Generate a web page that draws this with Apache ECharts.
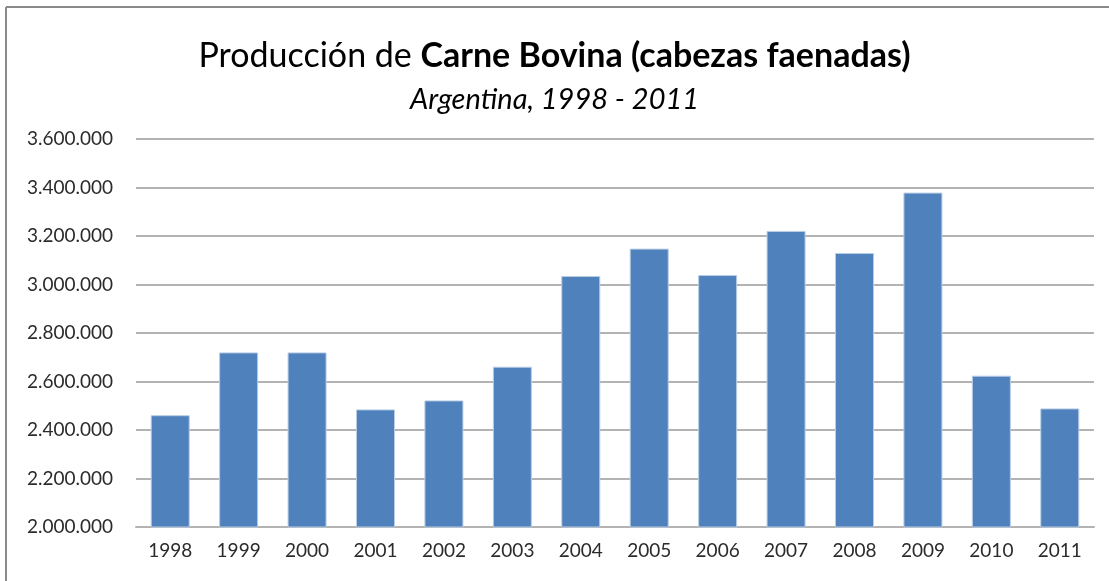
<!DOCTYPE html>
<html>
<head>
<meta charset="utf-8">
<script src="https://cdn.jsdelivr.net/npm/echarts@6/dist/echarts.min.js"></script>
<style>
html,body{margin:0;padding:0;background:#fff;}
#c{width:1109px;height:581px;}
</style>
</head>
<body>
<div id="c"></div>
<script>
const categories = ['1998','1999','2000','2001','2002','2003','2004','2005','2006','2007','2008','2009','2010','2011'];
const values = [2461000, 2720000, 2720000, 2485000, 2522000, 2661000, 3035000, 3148000, 3039000, 3221000, 3130000, 3379000, 2624000, 2489000];
const titleMain = 'Producción de ';
const titleBold = 'Carne Bovina (cabezas faenadas)';
const subtitle = 'Argentina, 1998 - 2011';

function fmt(v){
  return String(Math.round(v)).replace(/\B(?=(\d{3})+(?!\d))/g, '.');
}

const chart = echarts.init(document.getElementById('c'), null, {renderer:'canvas'});
chart.setOption({
  backgroundColor:'#ffffff',
  animation:false,
  title:[{
    text:'{n|' + titleMain + '}{b|' + titleBold + '}',
    left:'center',
    top:34,
    textStyle:{
      rich:{
        n:{fontFamily:'Lato', fontSize:34, color:'#000', fontWeight:'normal'},
        b:{fontFamily:'Lato', fontSize:34, color:'#000', fontWeight:'bold'}
      }
    }
  },{
    text:subtitle,
    left:'center',
    top:80,
    textStyle:{fontFamily:'Lato', fontSize:29, fontStyle:'italic', fontWeight:'normal', color:'#000'}
  }],
  graphic:[
    {type:'line', shape:{x1:6, y1:7, x2:1109, y2:7}, style:{stroke:'#8a8a8a', lineWidth:2}},
    {type:'line', shape:{x1:6, y1:7, x2:6, y2:581}, style:{stroke:'#8a8a8a', lineWidth:2}}
  ],
  grid:{left:136, right:15, top:139, bottom:54, containLabel:false},
  xAxis:{
    type:'category',
    data:categories,
    axisLine:{lineStyle:{color:'#b3b3b3', width:2}},
    axisTick:{show:false},
    axisLabel:{fontFamily:'Lato', fontSize:19, color:'#2b2b2b', margin:14}
  },
  yAxis:{
    type:'value',
    min:2000000, max:3600000, interval:200000,
    axisLine:{show:false},
    axisTick:{show:false},
    splitLine:{lineStyle:{color:'#b3b3b3', width:2}},
    axisLabel:{fontFamily:'Lato', fontSize:19, color:'#2b2b2b', margin:23, formatter:fmt}
  },
  series:[{
    type:'bar',
    data:values,
    barWidth:39,
    itemStyle:{color:'#4f81bd', borderColor:'#b9cde5', borderWidth:1}
  }]
});
</script>
</body>
</html>
